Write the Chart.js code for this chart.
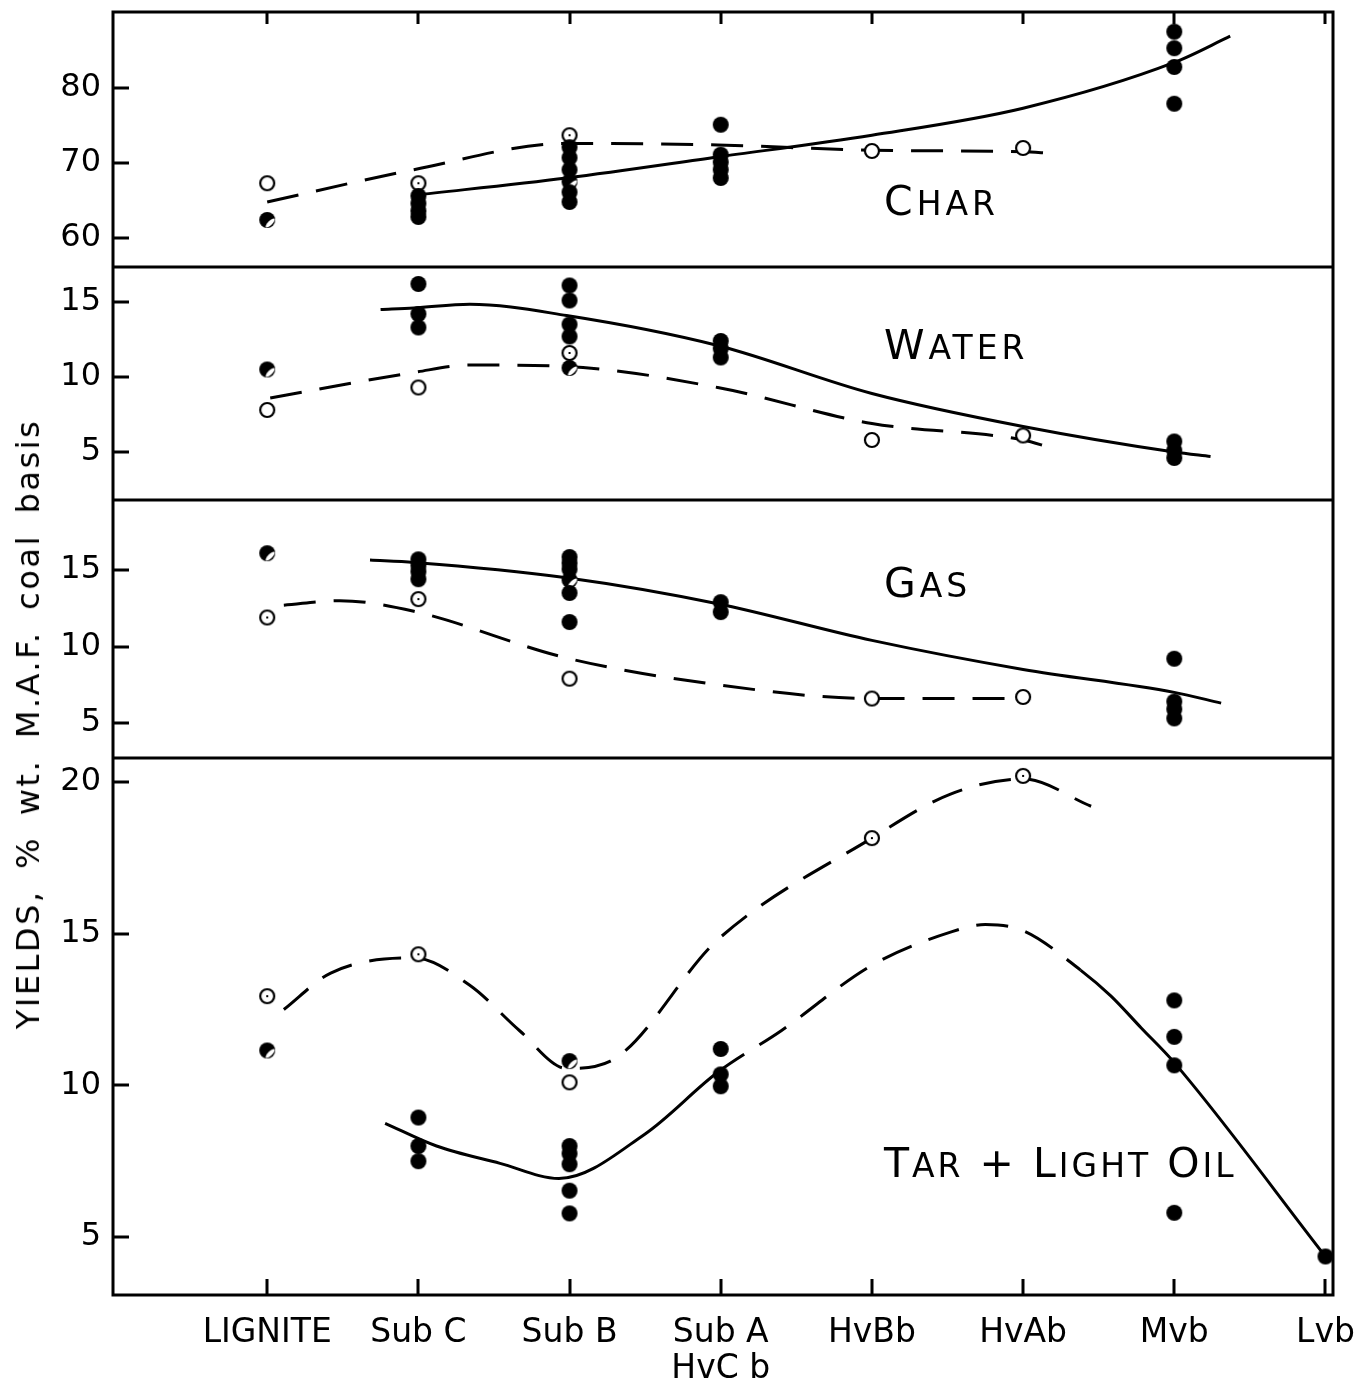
<!DOCTYPE html>
<html>
<head>
<meta charset="utf-8">
<script src="https://cdn.jsdelivr.net/npm/chart.js@4.4.0/dist/chart.umd.min.js"></script>
<style>
  html, body { margin: 0; padding: 0; background: #fff; }
  #wrap { position: relative; width: 1364px; height: 1387px; }
  .panel { position: absolute; font-family: 'DejaVu Sans', sans-serif; font-size: 41px; line-height: 1; letter-spacing: 4px; color: #000; white-space: nowrap; }
  .panel small { font-size: 33px; }
  #ytitle { position: absolute; left: 28px; top: 724px; transform: translate(-50%, -50%) rotate(-90deg); font-family: 'DejaVu Sans', sans-serif; font-size: 32px; letter-spacing: 2.5px; word-spacing: 8px; white-space: nowrap; color: #000; }
</style>
</head>
<body>
<div id="wrap">
  <canvas id="chart" width="1364" height="1387"></canvas>
  <div class="panel" style="left:884px;top:181px">C<small>HAR</small></div>
  <div class="panel" style="left:884px;top:325px">W<small>ATER</small></div>
  <div class="panel" style="left:884px;top:563px">G<small>AS</small></div>
  <div class="panel" style="left:884px;top:1143px;letter-spacing:3px">T<small>AR</small> + L<small>IGHT</small> O<small>IL</small></div>
  <div id="ytitle">YIELDS, % wt. M.A.F. coal basis</div>
</div>
<script>
'use strict'

const categories = ['LIGNITE', 'Sub C', 'Sub B', ['Sub A', 'HvC b'], 'HvBb', 'HvAb', 'Mvb', 'Lvb']

const charTicks = [60, 70, 80]
const waterTicks = [5, 10, 15]
const gasTicks = [5, 10, 15]
const tarTicks = [5, 10, 15, 20]

// measured points: [rank index, yield]
const charFilled = [[1, 65.6], [1, 64.6], [1, 63.6], [1, 62.8], [2, 72.1], [2, 70.7], [2, 69.1], [2, 66.1], [2, 64.8],
  [3, 75.1], [3, 71.1], [3, 70.1], [3, 69.1], [3, 68.0], [6, 87.5], [6, 85.3], [6, 82.8], [6, 77.9]]
const charHalf = [[0, 62.4], [2, 67.5]]
const charOpen = [[0, 67.3], [4, 71.6], [5, 72.0]]
const charOpenDot = [[1, 67.3], [2, 73.7]]
// fitted curves
const charSolid = [[0.97, 65.7], [1.98, 68.0], [2.98, 70.8], [4.0, 73.7], [5.0, 77.3], [6.0, 83.4], [6.37, 86.9]]
const charDashed = [[0, 64.8], [0.97, 69.1], [1.98, 72.6], [2.98, 72.4], [4.0, 71.7], [5.0, 71.5], [5.18, 71.3]]

const waterFilled = [[1, 16.2], [1, 14.2], [1, 13.3], [2, 16.1], [2, 15.1], [2, 13.5], [2, 12.7],
  [3, 12.4], [3, 11.9], [3, 11.3], [6, 5.7], [6, 5.1], [6, 4.6]]
const waterHalf = [[0, 10.5], [2, 10.6]]
const waterOpen = [[0, 7.8], [1, 9.3], [4, 5.8], [5, 6.1]]
const waterOpenDot = [[2, 11.6]]
const waterSolid = [[0.75, 14.5], [0.97, 14.6], [1.34, 14.85], [1.98, 14.1], [2.98, 12.1], [4.0, 8.9], [5.0, 6.7], [6.0, 5.0], [6.24, 4.7]]
const waterDashed = [[0.02, 8.6], [0.97, 10.3], [1.34, 10.8], [1.98, 10.7], [2.98, 9.3], [4.0, 6.9], [5.0, 5.8], [5.18, 5.3]]

const gasFilled = [[1, 15.7], [1, 15.3], [1, 14.9], [1, 14.4], [2, 15.85], [2, 15.45], [2, 15.05], [2, 13.5], [2, 11.6],
  [3, 12.9], [3, 12.25], [6, 9.2], [6, 6.4], [6, 5.9], [6, 5.3]]
const gasHalf = [[0, 16.1], [2, 14.35]]
const gasOpen = [[2, 7.9], [4, 6.6], [5, 6.7]]
const gasOpenDot = [[0, 11.9], [1, 13.1]]
const gasSolid = [[0.68, 15.65], [0.97, 15.5], [1.98, 14.5], [2.98, 12.8], [4.0, 10.4], [5.0, 8.5], [6.0, 7.0], [6.31, 6.3]]
const gasDashed = [[0.11, 12.7], [0.48, 13.0], [0.97, 12.3], [1.98, 9.25], [2.98, 7.5], [4.0, 6.6], [5.0, 6.6]]

const tarFilled = [[1, 8.94], [1, 8.0], [1, 7.5], [2, 8.0], [2, 7.75], [2, 7.4], [2, 6.53], [2, 5.78],
  [3, 11.2], [3, 10.36], [3, 9.97], [6, 12.8], [6, 11.6], [6, 10.66], [6, 5.8], [7, 4.36]]
const tarHalf = [[0, 11.15], [2, 10.8]]
const tarOpen = [[2, 10.1]]
const tarOpenDot = [[0, 12.94], [1, 14.32], [4, 18.15], [5, 20.2]]
const tarUpper = [[0.11, 12.5], [0.42, 13.7], [0.97, 14.2], [1.34, 13.3], [1.67, 11.8], [1.98, 10.56], [2.27, 10.8],
  [2.98, 14.8], [4.0, 18.15], [4.52, 19.6], [5.0, 20.1], [5.45, 19.2]]
const tarLower = [[0.78, 8.75], [1.12, 8.0], [1.54, 7.43], [1.93, 6.93], [2.5, 8.4], [2.98, 10.43], [3.4, 11.8],
  [4.0, 13.96], [4.52, 15.05], [4.75, 15.3], [5.0, 15.1], [5.38, 13.8], [5.58, 12.95], [5.78, 11.9], [6.0, 10.75], [7.0, 4.36]]

const FONT = 'DejaVu Sans'

function markImage (kind) {
  const c = document.createElement('canvas')
  c.width = 20
  c.height = 20
  const g = c.getContext('2d')
  g.beginPath()
  if (kind === 'filled' || kind === 'half') {
    g.arc(10, 10, 8, 0, Math.PI * 2)
    g.fillStyle = '#000'
    g.fill()
    if (kind === 'half') {
      g.save()
      g.clip()
      g.beginPath()
      g.ellipse(13, 13, 6, 2.2, -Math.PI / 4, 0, Math.PI * 2)
      g.fillStyle = '#fff'
      g.fill()
      g.restore()
    }
  } else {
    g.arc(10, 10, 7, 0, Math.PI * 2)
    g.fillStyle = '#fff'
    g.fill()
    g.lineWidth = 2.2
    g.strokeStyle = '#000'
    g.stroke()
    if (kind === 'dot') {
      g.fillStyle = '#000'
      g.fillRect(9, 9, 2, 2)
    }
  }
  return c
}

const marks = {
  filled: markImage('filled'),
  half: markImage('half'),
  open: markImage('open'),
  dot: markImage('dot')
}

function points (data, kind, axis) {
  return { type: 'scatter', data, yAxisID: axis, pointStyle: marks[kind], pointRadius: 8, order: 0 }
}

function curve (data, axis, dashed, dashFrom, dashTo) {
  const ds = {
    type: 'line',
    data,
    yAxisID: axis,
    borderColor: '#000',
    borderWidth: 3,
    pointRadius: 0,
    fill: false,
    cubicInterpolationMode: 'monotone',
    borderDash: dashed ? [32, 18] : [],
    order: 1
  }
  if (dashFrom !== undefined) {
    ds.segment = {
      borderDash: ctx => (ctx.p0.parsed.x >= dashFrom && ctx.p0.parsed.x < dashTo) ? [32, 18] : []
    }
  }
  return ds
}

function panelAxis (min, max, weight, tickValues) {
  return {
    type: 'linear',
    position: 'left',
    stack: 'panels',
    stackWeight: weight,
    min,
    max,
    afterFit: s => {
      s.width = 100
      s.paddingTop = 0
      s.paddingBottom = 0
    },
    afterBuildTicks: s => { s.ticks = tickValues.map(v => ({ value: v })) },
    grid: { display: false, drawTicks: false },
    border: { display: false },
    ticks: { color: '#000', font: { family: FONT, size: 32 }, padding: 12 }
  }
}

const framePlugin = {
  id: 'frame',
  afterDraw (chart) {
    const { ctx, chartArea: a, scales } = chart
    ctx.save()
    ctx.strokeStyle = '#000'
    ctx.lineWidth = 3
    ctx.strokeRect(a.left, a.top, a.right - a.left, a.bottom - a.top)
    ctx.beginPath()
    ;['yWater', 'yGas', 'yTar'].forEach(id => {
      const y = Math.round(scales[id].top)
      ctx.moveTo(a.left, y)
      ctx.lineTo(a.right, y)
    })
    ;['yChar', 'yWater', 'yGas', 'yTar'].forEach(id => {
      scales[id].ticks.forEach(t => {
        const y = Math.round(scales[id].getPixelForValue(t.value))
        ctx.moveTo(a.left, y)
        ctx.lineTo(a.left + 16, y)
      })
    })
    scales.x.ticks.forEach(t => {
      const x = Math.round(scales.x.getPixelForValue(t.value))
      ctx.moveTo(x, a.bottom)
      ctx.lineTo(x, a.bottom - 16)
      ctx.moveTo(x, a.top)
      ctx.lineTo(x, a.top + 12)
    })
    ctx.stroke()
    ctx.restore()
  }
}

function drawChart () {
  const datasets = [
    points(charFilled, 'filled', 'yChar'), points(charHalf, 'half', 'yChar'),
    points(charOpen, 'open', 'yChar'), points(charOpenDot, 'dot', 'yChar'),
    curve(charSolid, 'yChar', false), curve(charDashed, 'yChar', true),
    points(waterFilled, 'filled', 'yWater'), points(waterHalf, 'half', 'yWater'),
    points(waterOpen, 'open', 'yWater'), points(waterOpenDot, 'dot', 'yWater'),
    curve(waterSolid, 'yWater', false), curve(waterDashed, 'yWater', true),
    points(gasFilled, 'filled', 'yGas'), points(gasHalf, 'half', 'yGas'),
    points(gasOpen, 'open', 'yGas'), points(gasOpenDot, 'dot', 'yGas'),
    curve(gasSolid, 'yGas', false), curve(gasDashed, 'yGas', true),
    points(tarFilled, 'filled', 'yTar'), points(tarHalf, 'half', 'yTar'),
    points(tarOpen, 'open', 'yTar'), points(tarOpenDot, 'dot', 'yTar'),
    curve(tarUpper, 'yTar', true), curve(tarLower, 'yTar', false, 2.98, 5.3)
  ]

  const ctx = document.getElementById('chart').getContext('2d')
  return new Chart(ctx, {
    type: 'scatter',
    data: { datasets },
    plugins: [framePlugin],
    options: {
      responsive: false,
      animation: false,
      events: [],
      layout: { padding: { top: 12, left: 13, right: 31, bottom: 0 } },
      plugins: { legend: { display: false }, tooltip: { enabled: false } },
      scales: {
        x: {
          type: 'linear',
          min: -1.02,
          max: 7.05,
          afterFit: s => {
            s.height = 92
            s.paddingLeft = 0
            s.paddingRight = 0
          },
          afterBuildTicks: s => { s.ticks = categories.map((c, i) => ({ value: i })) },
          grid: { display: false, drawTicks: false },
          border: { display: false },
          ticks: {
            color: '#000',
            autoSkip: false,
            maxRotation: 0,
            padding: 20,
            font: { family: FONT, size: 33, lineHeight: 1.1 },
            callback: v => categories[v]
          }
        },
        // stacked panels: the last one listed is placed at the top
        yTar: panelAxis(3.09, 20.79, 537, tarTicks),
        yGas: panelAxis(2.71, 19.58, 258, gasTicks),
        yWater: panelAxis(1.8, 17.33, 233, waterTicks),
        yChar: panelAxis(56.13, 90.13, 255, charTicks)
      }
    }
  })
}

drawChart()
</script>
</body>
</html>
